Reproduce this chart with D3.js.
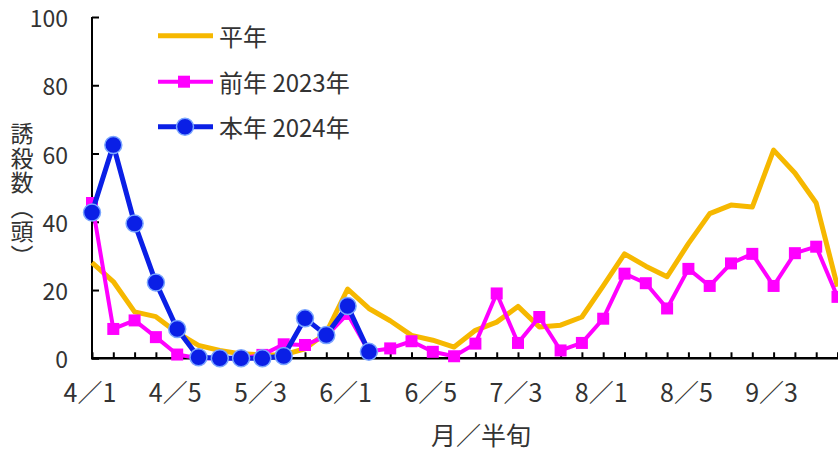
<!DOCTYPE html>
<html><head><meta charset="utf-8">
<script src="https://cdn.jsdelivr.net/npm/d3@7"></script>
<style>
html,body{margin:0;padding:0;background:#fff;overflow:hidden;}
text{font-family:"Noto Sans CJK JP","Noto Sans",sans-serif;fill:#333;}
</style></head>
<body><svg id="c" width="838" height="452"></svg>
<script>
const categories = ["4/1","4/2","4/3","4/4","4/5","4/6","5/1","5/2","5/3","5/4","5/5","5/6",
  "6/1","6/2","6/3","6/4","6/5","6/6","7/1","7/2","7/3","7/4","7/5","7/6",
  "8/1","8/2","8/3","8/4","8/5","8/6","9/1","9/2","9/3","9/4","9/5","9/6"];
const tickLabels = ["4／1","4／5","5／3","6／1","6／5","7／3","8／1","8／5","9／3"];
const tickIndex = [0,4,8,12,16,20,24,28,32];
const normalYear = [28,22.5,13.6,12.2,7.5,3.8,2.3,1.3,1,1,2.8,7.5,20.3,14.6,11,6.7,5.3,3.3,8.2,10.6,15.2,9.2,9.7,12.1,21.2,30.6,27,23.9,33.6,42.4,44.9,44.3,61,54.3,45.5,21];
const year2023 = [45.5,8.6,11.1,6.2,1.1,0,0,0,1,4.1,3.9,6.5,13,2,2.9,5,1.9,0.6,4.3,19,4.5,12.1,2.3,4.5,11.6,24.8,22,14.6,26.2,21.2,27.8,30.6,21.2,30.8,32.7,18];
const year2024 = [42.7,62.5,39.5,22.2,8.6,0.3,0,0,0,0.7,11.7,6.8,15.3,1.9];
const seriesNames = ["平年","前年 2023年","本年 2024年"];
const yTicks = [0,20,40,60,80,100];

const svg = d3.select("#c");
const x = d3.scalePoint().domain(d3.range(categories.length)).range([92, 92 + 35*21.3]);
const y = d3.scaleLinear().domain([0,100]).range([358.3, 17]);

const colY = "#F6B800", colM = "#FF00FF", colB = "#0A1FE6";

// axes
const yAxis = svg.append("g").attr("transform","translate(92,0)")
  .call(d3.axisRight(y).tickValues(yTicks).tickSize(7).tickFormat(""));
yAxis.select(".domain").attr("stroke","#000").attr("stroke-width",2).attr("d","M0,17V358.3");
yAxis.selectAll(".tick line").attr("stroke","#000").attr("stroke-width",2);
svg.append("g").selectAll("text").data(yTicks).join("text")
  .attr("x",68).attr("y",d=>y(d)).attr("text-anchor","end").attr("dominant-baseline","central")
  .attr("font-size",23).text(d=>d);

const xAxis = svg.append("g").attr("transform","translate(0,358.3)")
  .call(d3.axisTop(x).tickSize(6).tickFormat(""));
xAxis.select(".domain").attr("stroke","#000").attr("stroke-width",2.5).attr("d","M91,0H838");
xAxis.selectAll(".tick line").attr("stroke","#000").attr("stroke-width",2);
svg.append("g").selectAll("text").data(tickIndex).join("text")
  .attr("x",d=>x(d)-2).attr("y",391).attr("text-anchor","middle").attr("dominant-baseline","central")
  .attr("font-size",25).text((d,i)=>tickLabels[i]);

// titles
svg.append("text").attr("x",22).attr("y",434).attr("x",481).attr("text-anchor","middle").attr("dominant-baseline","central")
  .attr("font-size",25).text("月／半旬");
svg.append("text").attr("x",22).attr("y",122).attr("writing-mode","vertical-rl")
  .attr("font-size",23).attr("letter-spacing",1.5).text("誘殺数（頭）");

const line = d3.line().x((d,i)=>x(i)).y(d=>y(d));

// 平年
svg.append("path").datum(normalYear).attr("d",line).attr("fill","none")
  .attr("stroke",colY).attr("stroke-width",5).attr("stroke-linejoin","round");
// 2023
svg.append("path").datum(year2023).attr("d",line).attr("fill","none")
  .attr("stroke",colM).attr("stroke-width",4).attr("stroke-linejoin","round");
svg.append("g").selectAll("rect").data(year2023).join("rect")
  .attr("x",(d,i)=>x(i)-6).attr("y",d=>y(d)-6).attr("width",12).attr("height",12).attr("fill",colM);
// 2024
svg.append("path").datum(year2024).attr("d",line).attr("fill","none")
  .attr("stroke",colB).attr("stroke-width",5).attr("stroke-linejoin","round");
svg.append("g").selectAll("circle").data(year2024).join("circle")
  .attr("cx",(d,i)=>x(i)).attr("cy",d=>y(d)).attr("r",8.5)
  .attr("fill",colB).attr("stroke","#7AA6FF").attr("stroke-width",1.5);

// legend
const lg = svg.append("g");
const ly = [35.7, 81.7, 126.7];
lg.append("line").attr("x1",158).attr("x2",213).attr("y1",ly[0]).attr("y2",ly[0]).attr("stroke",colY).attr("stroke-width",5);
lg.append("line").attr("x1",158).attr("x2",213).attr("y1",ly[1]).attr("y2",ly[1]).attr("stroke",colM).attr("stroke-width",4);
lg.append("rect").attr("x",178).attr("y",ly[1]-6).attr("width",12).attr("height",12).attr("fill",colM);
lg.append("line").attr("x1",158).attr("x2",213).attr("y1",ly[2]).attr("y2",ly[2]).attr("stroke",colB).attr("stroke-width",5);
lg.append("circle").attr("cx",185).attr("cy",ly[2]).attr("r",8.5).attr("fill",colB).attr("stroke","#7AA6FF").attr("stroke-width",1.5);
lg.selectAll("text").data(seriesNames).join("text")
  .attr("x",219).attr("y",(d,i)=>ly[i]).attr("dominant-baseline","central")
  .attr("font-size",24).text(d=>d);
</script></body></html>
